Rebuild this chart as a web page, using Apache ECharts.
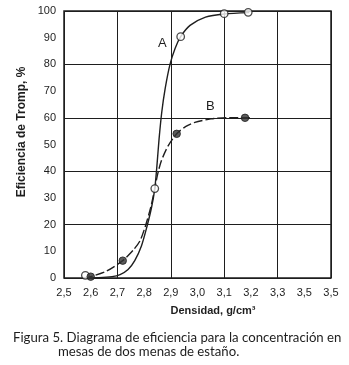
<!DOCTYPE html>
<html>
<head>
<meta charset="utf-8">
<script src="https://cdn.jsdelivr.net/npm/echarts@6/dist/echarts.min.js"></script>
<style>
  html, body { margin: 0; padding: 0; background: #fff; }
  #chart { width: 349px; height: 365px; }
</style>
</head>
<body>
<div id="chart"></div>
<script>
// Tick labels as printed on the density axis (0.1 steps from 2.5 to 3.5)
var xTickLabels = ['2,5', '2,6', '2,7', '2,8', '2,9', '3,0', '3,1', '3,2', '3,3', '3,5', '3,5'];

// Curve A: fitted line (density, efficiency %)
var curveA = [
  [2.57, 0], [2.63, 0.1], [2.68, 0.5], [2.71, 1.3], [2.74, 3.2], [2.765, 6.5],
  [2.79, 12], [2.81, 19], [2.828, 26.5], [2.84, 33.5], [2.848, 42],
  [2.856, 52], [2.866, 62], [2.879, 71], [2.897, 80], [2.916, 86],
  [2.937, 90.4], [2.972, 94.6], [3.03, 97.7], [3.10, 98.9], [3.194, 99.4]
];
// Curve A: measured points (open circles)
var pointsA = [[2.58, 1], [2.84, 33.5], [2.937, 90.4], [3.10, 99], [3.19, 99.5]];

// Curve B: fitted line (dashed)
var curveB = [
  [2.575, 0], [2.60, 0.5], [2.66, 2.6], [2.72, 6.5], [2.76, 10.5], [2.785, 14],
  [2.805, 19.5], [2.825, 26.5], [2.84, 33.5], [2.851, 39], [2.865, 44],
  [2.89, 49.5], [2.922, 54], [2.955, 56.7], [2.99, 58.3], [3.05, 59.6],
  [3.11, 60], [3.196, 60]
];
// Curve B: measured points (filled dots)
var pointsB = [[2.60, 0.5], [2.72, 6.5], [2.922, 54], [3.178, 60]];

var ink = '#1e1e1e';
var chart = echarts.init(document.getElementById('chart'), null, { renderer: 'canvas' });

chart.setOption({
  animation: false,
  backgroundColor: '#fff',
  grid: { left: 64, right: 18, top: 11, bottom: 87, show: true, borderColor: ink, borderWidth: 1.5, backgroundColor: 'transparent' },
  xAxis: [
    {
      type: 'value', min: 2.5, max: 3.5, interval: 0.1,
      axisLine: { show: false }, axisTick: { show: false },
      splitLine: { show: false },
      axisLabel: {
        margin: 9, color: ink, fontFamily: 'Liberation Sans, Arial, sans-serif', fontSize: 11,
        formatter: function (v) { return xTickLabels[Math.round((v - 2.5) * 10)] || ''; }
      }
    },
    {
      type: 'value', min: 2.5, max: 3.5, interval: 0.2, position: 'bottom',
      axisLine: { show: false }, axisTick: { show: false }, axisLabel: { show: false },
      splitLine: { show: true, lineStyle: { color: ink, width: 1 } }
    }
  ],
  yAxis: [
    {
      type: 'value', min: 0, max: 100, interval: 10,
      axisLine: { show: false }, axisTick: { show: false },
      splitLine: { show: false },
      axisLabel: { margin: 8, color: ink, fontFamily: 'Liberation Sans, Arial, sans-serif', fontSize: 11 }
    },
    {
      type: 'value', min: 0, max: 100, interval: 20, position: 'left',
      axisLine: { show: false }, axisTick: { show: false }, axisLabel: { show: false },
      splitLine: { show: true, lineStyle: { color: ink, width: 1 } }
    }
  ],
  series: [
    {
      name: 'A', type: 'line', data: curveA, smooth: 0.25,
      showSymbol: false, lineStyle: { color: ink, width: 1.4 }, z: 3
    },
    {
      name: 'B', type: 'line', data: curveB, smooth: 0.25,
      showSymbol: false, lineStyle: { color: ink, width: 1.4, type: [9, 3] }, z: 3
    },
    {
      name: 'A puntos', type: 'scatter', data: pointsA, symbol: 'circle', symbolSize: 7.5,
      itemStyle: { color: '#fff', borderColor: ink, borderWidth: 1.3 }, z: 5
    },
    {
      name: 'B puntos', type: 'scatter', data: pointsB, symbol: 'circle', symbolSize: 7.5,
      itemStyle: { color: '#333', borderColor: ink, borderWidth: 1 }, z: 5
    }
  ],
  graphic: [
    { type: 'text', left: 158, top: 37, style: { text: 'A', fontFamily: 'Liberation Sans, Arial, sans-serif', fontSize: 13, fill: ink } },
    { type: 'text', left: 206, top: 100, style: { text: 'B', fontFamily: 'Liberation Sans, Arial, sans-serif', fontSize: 13, fill: ink } },
    {
      type: 'text', x: 22, y: 132, rotation: Math.PI / 2,
      style: { text: 'Eficiencia de Tromp, %', fontFamily: 'Liberation Sans, Arial, sans-serif', fontWeight: 'bold', fontSize: 12, fill: ink, align: 'center', verticalAlign: 'middle' }
    },
    {
      type: 'text', x: 213, y: 311,
      style: { text: 'Densidad, g/cm³', fontFamily: 'Liberation Sans, Arial, sans-serif', fontWeight: 'bold', fontSize: 11, fill: ink, align: 'center', verticalAlign: 'middle' }
    },
    {
      type: 'text', x: 13, y: 338,
      style: { text: 'Figura 5. Diagrama de eficiencia para la concentración en', fontFamily: 'Lato, sans-serif', fontSize: 13.2, fill: ink, align: 'left', verticalAlign: 'middle' }
    },
    {
      type: 'text', x: 58, y: 352,
      style: { text: 'mesas de dos menas de estaño.', fontFamily: 'Lato, sans-serif', fontSize: 13.2, fill: ink, align: 'left', verticalAlign: 'middle' }
    }
  ]
});
</script>
</body>
</html>
